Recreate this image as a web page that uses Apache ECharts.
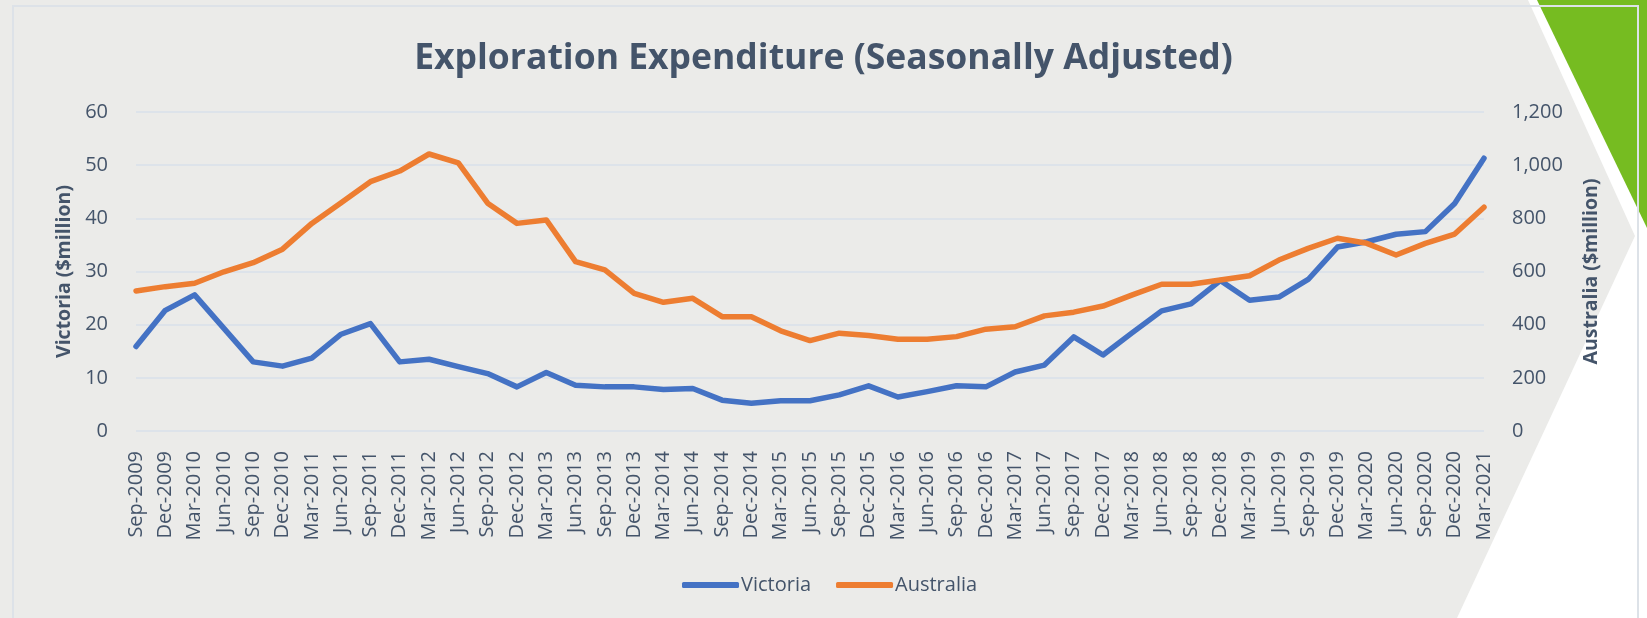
<!DOCTYPE html>
<html>
<head>
<meta charset="utf-8">
<script src="https://cdn.jsdelivr.net/npm/echarts@6/dist/echarts.min.js"></script>
<style>
  html, body { margin: 0; padding: 0; background: #ebebe9; }
  #chart { width: 1647px; height: 618px; }
</style>
</head>
<body>
<div id="chart"></div>
<script>
var quarters = ['Sep-2009','Dec-2009','Mar-2010','Jun-2010','Sep-2010','Dec-2010','Mar-2011','Jun-2011','Sep-2011','Dec-2011',
    'Mar-2012','Jun-2012','Sep-2012','Dec-2012','Mar-2013','Jun-2013','Sep-2013','Dec-2013','Mar-2014','Jun-2014',
    'Sep-2014','Dec-2014','Mar-2015','Jun-2015','Sep-2015','Dec-2015','Mar-2016','Jun-2016','Sep-2016','Dec-2016',
    'Mar-2017','Jun-2017','Sep-2017','Dec-2017','Mar-2018','Jun-2018','Sep-2018','Dec-2018','Mar-2019','Jun-2019',
    'Sep-2019','Dec-2019','Mar-2020','Jun-2020','Sep-2020','Dec-2020','Mar-2021'];

// Victoria, $million (left axis)
var victoria = [15.9, 22.7, 25.6, 19.3, 13.0, 12.2, 13.7, 18.2, 20.2, 13.0,
    13.5, 12.1, 10.8, 8.3, 11.0, 8.6, 8.3, 8.3, 7.8, 8.0,
    5.8, 5.2, 5.7, 5.7, 6.8, 8.5, 6.4, 7.4, 8.5, 8.3,
    11.1, 12.4, 17.7, 14.3, 18.5, 22.6, 23.9, 28.3, 24.6, 25.2,
    28.5, 34.6, 35.6, 37.0, 37.5, 42.8, 51.3];

// Australia, $million (right axis)
var australia = [527, 543, 556, 599, 633, 684, 781, 859, 938, 978,
    1042, 1009, 857, 781, 794, 637, 606, 518, 484, 499,
    430, 430, 377, 340, 368, 359, 345, 345, 355, 383,
    392, 433, 447, 470, 512, 552, 552, 568, 584, 643,
    687, 725, 706, 662, 706, 741, 842];

var leftTicks = [0, 60, 10];     // min, max, step
var rightTicks = [0, 1200, 200];

var textColor = '#44546a';
var font = 'Open Sans';

var myChart = echarts.init(document.getElementById('chart'));

option = {
    backgroundColor: '#ebebe9',
    textStyle: { fontFamily: font },
    animation: false,
    title: {
        text: 'Exploration Expenditure (Seasonally Adjusted)',
        left: 'center',
        top: 36,
        textStyle: { fontFamily: font, fontSize: 35.5, fontWeight: 'bold', color: textColor }
    },
    legend: {
        left: 677,
        top: 570,
        itemWidth: 57,
        itemHeight: 6,
        itemGap: 25,
        icon: 'roundRect',
        textStyle: { fontFamily: font, fontSize: 20, color: textColor, padding: [0, 0, 0, -3] },
        data: ['Victoria', 'Australia']
    },
    grid: { left: 136, right: 163, top: 112, bottom: 187 },
    xAxis: {
        type: 'category',
        data: quarters,
        boundaryGap: false,
        axisLine: { show: false },
        axisTick: { show: false },
        axisLabel: { rotate: 90, interval: 0, margin: 20, fontSize: 20, color: textColor, fontFamily: font }
    },
    yAxis: [
        {
            type: 'value',
            min: leftTicks[0], max: leftTicks[1], interval: leftTicks[2],
            name: 'Victoria ($million)',
            nameLocation: 'middle',
            nameGap: 60,
            nameTextStyle: { fontFamily: font, fontSize: 19.5, fontWeight: 'bold', color: textColor },
            axisLine: { show: false },
            axisTick: { show: false },
            axisLabel: { margin: 28, fontSize: 20, color: textColor, fontFamily: font },
            splitLine: { lineStyle: { color: '#dde3ea', width: 2 } }
        },
        {
            type: 'value',
            position: 'right',
            min: rightTicks[0], max: rightTicks[1], interval: rightTicks[2],
            name: 'Australia ($million)',
            nameLocation: 'middle',
            nameGap: 97,
            nameTextStyle: { fontFamily: font, fontSize: 19.5, fontWeight: 'bold', color: textColor },
            axisLine: { show: false },
            axisTick: { show: false },
            axisLabel: {
                margin: 28, fontSize: 20, color: textColor, fontFamily: font,
                formatter: function (v) { return v.toLocaleString('en-US'); }
            },
            splitLine: { show: false }
        }
    ],
    graphic: [
        // white chevron on the right
        { type: 'polygon', z: -10, silent: true,
          shape: { points: [[1528, 0], [1647, 0], [1647, 618], [1457, 618], [1635, 236]] },
          style: { fill: '#ffffff' } },
        // green corner
        { type: 'polygon', z: -9, silent: true,
          shape: { points: [[1537, 0], [1647, 0], [1647, 228]] },
          style: { fill: '#76bc21' } },
        // chart border
        { type: 'rect', z: -8, silent: true,
          shape: { x: 13, y: 6, width: 1625, height: 640 },
          style: { fill: 'none', stroke: '#dde2e8', lineWidth: 2 } }
    ],
    series: [
        {
            name: 'Victoria',
            type: 'line',
            yAxisIndex: 0,
            data: victoria,
            symbol: 'none',
            color: '#4472c4',
            lineStyle: { width: 5.5, cap: 'round', join: 'round' }
        },
        {
            name: 'Australia',
            type: 'line',
            yAxisIndex: 1,
            data: australia,
            symbol: 'none',
            color: '#ed7d31',
            lineStyle: { width: 5.5, cap: 'round', join: 'round' }
        }
    ]
};

myChart.setOption(option);
</script>
</body>
</html>
